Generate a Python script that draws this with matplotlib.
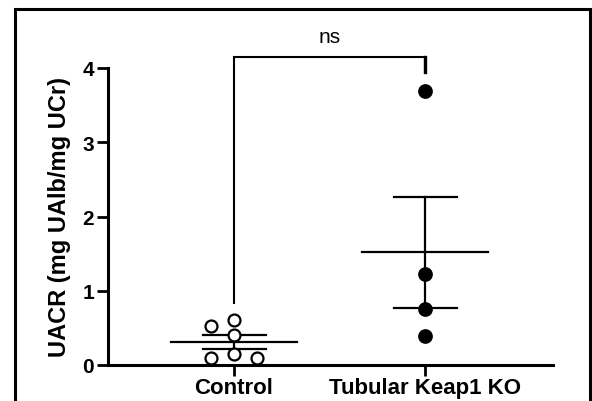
import numpy as np
import matplotlib.pyplot as plt
from matplotlib.patches import Rectangle

plt.rcParams['font.family'] = ['Liberation Sans', 'DejaVu Sans']

groups = ['Control', 'Tubular Keap1 KO']
control = [0.53, 0.60, 0.40, 0.09, 0.15, 0.09]
control_cols = [-1, 0, 0, -1, 0, 1]   # beeswarm column of each point
keap1_ko = [3.69, 1.23, 0.76, 0.39]
yticks = [0, 1, 2, 3, 4]
sig_label = 'ns'

fig = plt.figure(figsize=(5.92, 4.02), dpi=100)
ax = fig.add_axes([108 / 592, 36 / 402, 445 / 592, 297 / 402])

# frame around whole panel
fig.patches.append(Rectangle((15 / 592, -0.1), 574.5 / 592, 1.1 - 10 / 402,
                             transform=fig.transFigure, fill=False,
                             lw=2.2, ec='black', clip_on=False))

spacing = 0.122
mean_hw, cap_hw = 0.33, 0.165
for i, (vals, filled) in enumerate([(control, False), (keap1_ko, True)]):
    vals = np.array(vals)
    if filled:
        xs = np.full(len(vals), i, dtype=float)
    else:
        xs = i + np.array(control_cols) * spacing
    m = vals.mean()
    sem = vals.std(ddof=1) / np.sqrt(len(vals))
    ax.plot([i - mean_hw, i + mean_hw], [m, m], color='black', lw=1.6, zorder=3)
    ax.plot([i - cap_hw, i + cap_hw], [m + sem] * 2, color='black', lw=1.6, zorder=3)
    ax.plot([i - cap_hw, i + cap_hw], [m - sem] * 2, color='black', lw=1.6, zorder=3)
    ax.plot([i, i], [m - sem, m + sem], color='black', lw=1.6, zorder=3)
    ax.plot(xs, vals, 'o', ms=9 if filled else 8.6,
            mfc='black' if filled else 'white', mec='black', mew=1.6,
            zorder=4, clip_on=False)

# significance bracket
ax.plot([0, 0, 1, 1], [0.84, 4.15, 4.15, 3.95], color='black', lw=1.5,
        clip_on=False, solid_joinstyle='miter')
ax.plot([1, 1], [4.15, 3.95], color='black', lw=2.4, clip_on=False)
ax.text(0.5, 4.3, sig_label, ha='center', va='bottom', fontsize=15)

ax.set_xlim(-0.66, 1.67)
ax.set_ylim(0, 4)
ax.set_yticks(yticks)
ax.set_xticks(range(len(groups)))
ax.set_xticklabels(groups, fontsize=16, fontweight='bold')
ax.set_yticklabels([str(t) for t in yticks], fontsize=15, fontweight='bold')
ax.set_ylabel('UACR (mg UAlb/mg UCr)', fontsize=17, fontweight='bold', labelpad=8)
for s in ['top', 'right']:
    ax.spines[s].set_visible(False)
for s in ['left', 'bottom']:
    ax.spines[s].set_linewidth(2.2)
ax.tick_params(axis='both', width=2, length=8, pad=2)
ax.tick_params(axis='x', pad=1)

fig.savefig('out.png', dpi=100)
